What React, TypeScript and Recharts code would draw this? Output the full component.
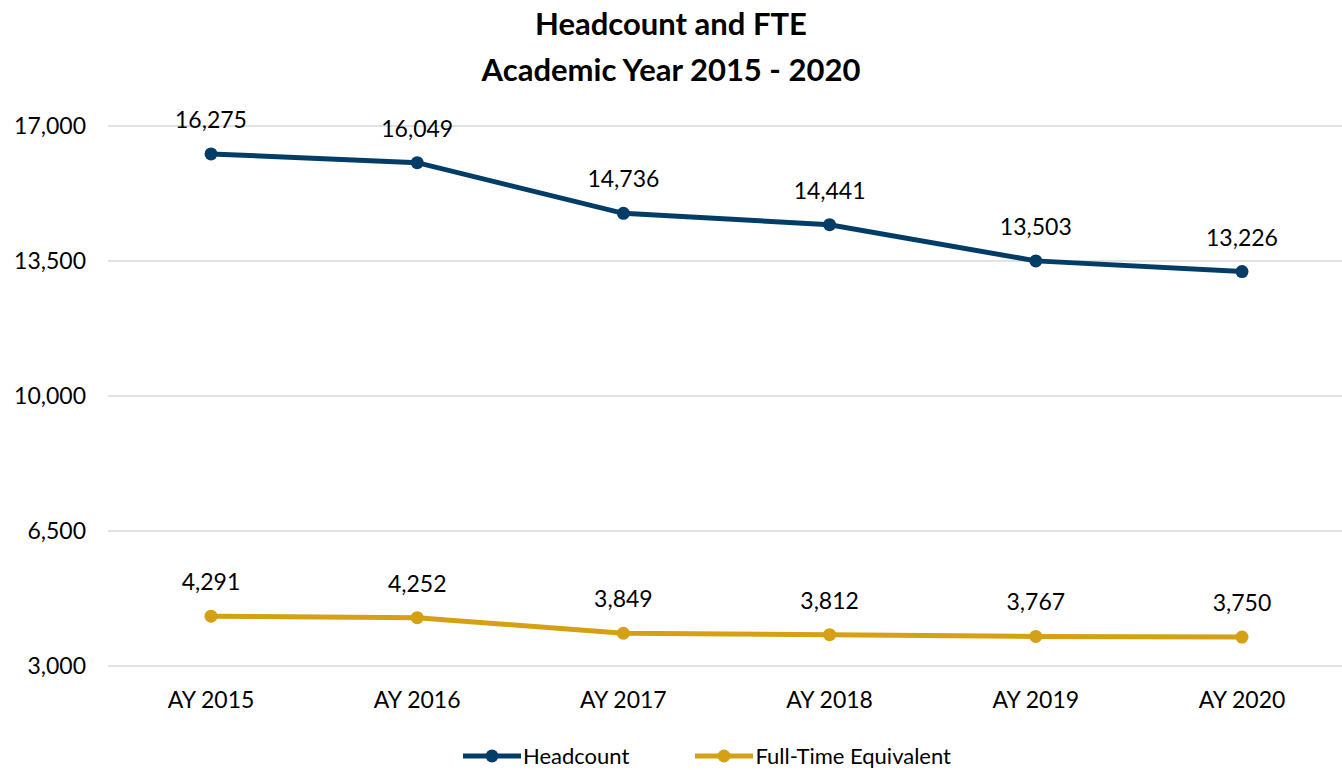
import {
  CartesianGrid,
  LabelList,
  Legend,
  Line,
  LineChart,
  XAxis,
  YAxis,
} from "recharts";

const years = ["AY 2015", "AY 2016", "AY 2017", "AY 2018", "AY 2019", "AY 2020"];
const headcount = [16275, 16049, 14736, 14441, 13503, 13226];
const fte = [4291, 4252, 3849, 3812, 3767, 3750];
const yTicks = [3000, 6500, 10000, 13500, 17000];

const NAVY = "#023d68";
const GOLD = "#d5a014";
const FONT = "Lato, 'Open Sans', sans-serif";

const data = years.map((year, i) => ({
  year,
  headcount: headcount[i],
  fte: fte[i],
}));

const fmt = (v: number) => v.toLocaleString("en-US");

const legendItems = [
  { label: "Headcount", color: NAVY },
  { label: "Full-Time Equivalent", color: GOLD },
];

function LegendContent() {
  return (
    <div
      style={{
        display: "flex",
        justifyContent: "center",
        gap: 66,
        fontFamily: FONT,
        fontSize: 22,
        color: "#000",
        paddingTop: 12,
        paddingLeft: 64,
      }}
    >
      {legendItems.map((item) => (
        <div key={item.label} style={{ display: "flex", alignItems: "center" }}>
          <svg width={58} height={16}>
            <line x1={0} y1={8} x2={58} y2={8} stroke={item.color} strokeWidth={5} />
            <circle cx={29} cy={8} r={6.5} fill={item.color} />
          </svg>
          <span style={{ marginLeft: 2 }}>{item.label}</span>
        </div>
      ))}
    </div>
  );
}

export default function App() {
  return (
    <div
      style={{
        position: "absolute",
        left: 0,
        top: 0,
        width: 1342,
        height: 770,
        background: "#fff",
        fontFamily: FONT,
      }}
    >
      <div
        style={{
          position: "absolute",
          left: 0,
          top: 0,
          width: 1342,
          textAlign: "center",
          fontWeight: 700,
          fontSize: 31,
          lineHeight: "46px",
          color: "#000",
        }}
      >
        <div>Headcount and FTE</div>
        <div>Academic Year 2015 - 2020</div>
      </div>
      <LineChart
        width={1342}
        height={770}
        data={data}
        margin={{ top: 126, right: 0, left: 8, bottom: 0 }}
      >
        <CartesianGrid vertical={false} stroke="#d9d9d9" strokeWidth={1.5} />
        <XAxis
          dataKey="year"
          axisLine={false}
          tickLine={false}
          height={64}
          padding={{ left: 103, right: 100 }}
          tick={{ fontSize: 23, fill: "#000", fontFamily: FONT }}
          tickMargin={20}
        />
        <YAxis
          domain={[3000, 17000]}
          ticks={yTicks}
          interval={0}
          width={100}
          axisLine={false}
          tickLine={false}
          tickFormatter={fmt}
          tick={{ fontSize: 23, fill: "#000", fontFamily: FONT }}
          tickMargin={16}
        />
        <Legend
          verticalAlign="bottom"
          height={40}
          content={() => <LegendContent />}
        />
        <Line
          type="linear"
          dataKey="headcount"
          name="Headcount"
          stroke={NAVY}
          strokeWidth={5}
          dot={{ r: 6.5, fill: NAVY, stroke: NAVY, strokeWidth: 0 }}
          isAnimationActive={false}
        >
          <LabelList
            dataKey="headcount"
            position="top"
            offset={26}
            formatter={(v: any) => fmt(Number(v))}
            style={{ fontSize: 23, fill: "#000", fontFamily: FONT }}
          />
        </Line>
        <Line
          type="linear"
          dataKey="fte"
          name="Full-Time Equivalent"
          stroke={GOLD}
          strokeWidth={5}
          dot={{ r: 6.5, fill: GOLD, stroke: GOLD, strokeWidth: 0 }}
          isAnimationActive={false}
        >
          <LabelList
            dataKey="fte"
            position="top"
            offset={26}
            formatter={(v: any) => fmt(Number(v))}
            style={{ fontSize: 23, fill: "#000", fontFamily: FONT }}
          />
        </Line>
      </LineChart>
    </div>
  );
}
